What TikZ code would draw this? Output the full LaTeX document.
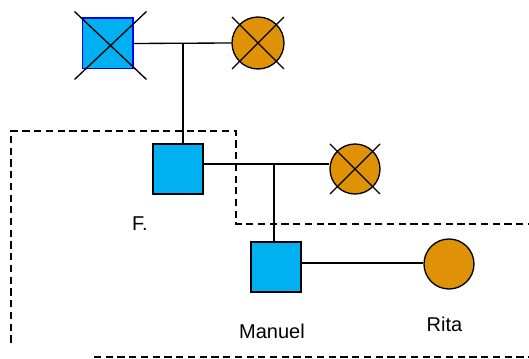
\documentclass[tikz,border=0pt]{standalone}
\usepackage{fontspec}
\setmainfont{Liberation Sans}
\definecolor{malefill}{RGB}{0,176,240}
\definecolor{femalefill}{RGB}{223,146,6}
\begin{document}
\begin{tikzpicture}[x=0.75pt,y=-0.75pt,
  male/.style={rectangle,draw=black,line width=1pt,fill=malefill,minimum size=37.5pt,inner sep=0pt},
  female/.style={circle,draw=black,line width=1pt,fill=femalefill,minimum size=37.5pt,inner sep=0pt},
  link/.style={draw=black,line width=1pt},
  xmark/.style={draw=black,line width=1pt},
  frame/.style={draw=black,line width=1.3pt,dash pattern=on 5.4pt off 3.4pt},
  lbl/.style={anchor=base,inner sep=0pt,font=\fontsize{15}{18}\selectfont}]
\useasboundingbox (0,0) rectangle (529,359);

% grandparents (both deceased)
\node[male,draw=blue,minimum size=38pt] (gf) at (107.5,43.5) {};
\node[female,minimum size=39pt] (gm) at (258,43) {};
\draw[xmark] (gf.center) +(-33,-32) -- +(39,36);
\draw[xmark] (gf.center) +(39,-32) -- +(-33,36);
\draw[xmark] (gm.center) +(-26,-26) -- +(26,26);
\draw[xmark] (gm.center) +(26,-26) -- +(-26,26);
\coordinate (m1) at (183,43);
\draw[link] (gf.east) -- (gm.west);

% F. and his deceased wife
\node[male] (f) at (178,169) {};
\node[female] (fw) at (355,169) {};
\draw[xmark] (fw.center) +(-25,-25) -- +(25,25);
\draw[xmark] (fw.center) +(25,-25) -- +(-25,25);
\draw[link] (m1) -- (m1 |- f.north);
\coordinate (m2) at (274,164);
\draw[link] (f.east |- m2) -- (fw.west |- m2);

% Manuel and Rita
\node[male] (manuel) at (276,267) {};
\node[female] (rita) at (449,264) {};
\draw[link] (m2) -- (m2 |- manuel.north);
\draw[link] (manuel.east |- 0,263) -- (rita.west |- 0,263);

% labels
\node[lbl] (lf) at (140,231) {F.};
\node[lbl] (lm) at (272,339) {Manuel};
\node[lbl] (lr) at (444.5,332) {Rita};

% dashed household boundary
\draw[frame] (535,224) -- (236,224) -- (236,131) -- (11,131) -- (11,347);
\draw[frame] (94,357) -- (535,357);
\end{tikzpicture}
\end{document}
